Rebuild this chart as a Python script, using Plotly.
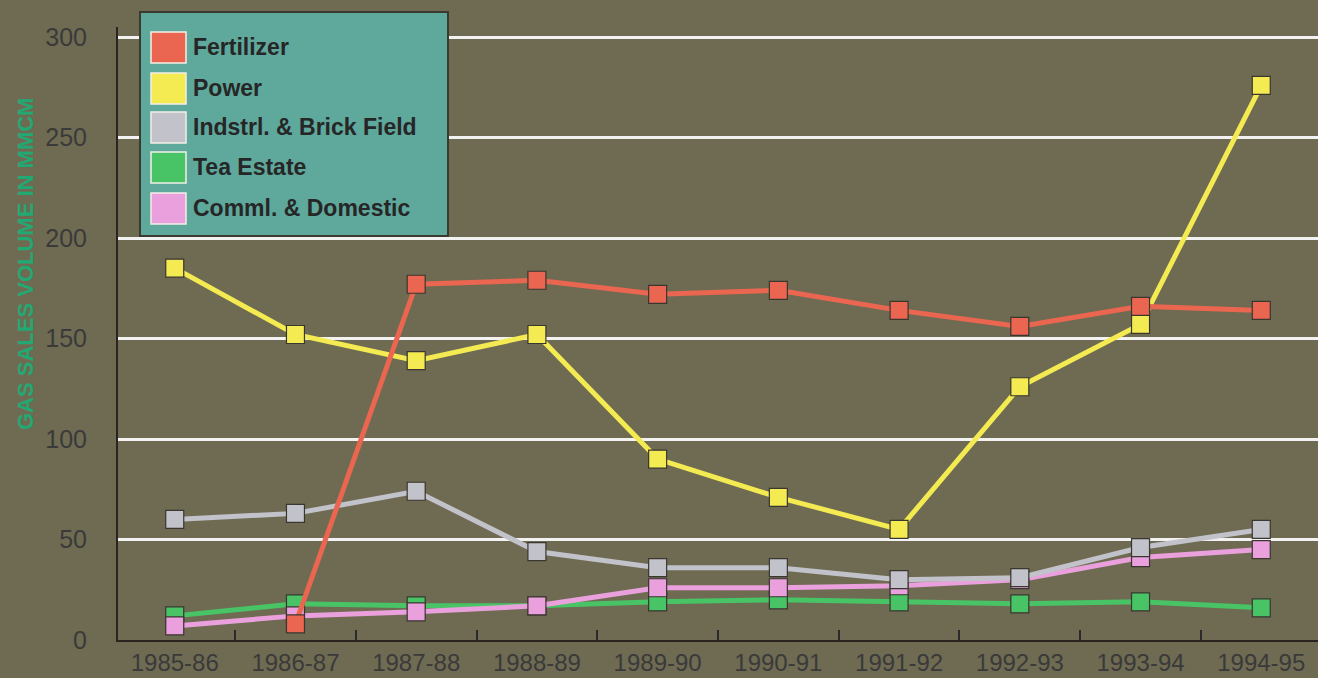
import plotly.graph_objects as go

years = ["1985-86", "1986-87", "1987-88", "1988-89", "1989-90",
         "1990-91", "1991-92", "1992-93", "1993-94", "1994-95"]

fertilizer = [None, 8, 177, 179, 172, 174, 164, 156, 166, 164]
power = [185, 152, 139, 152, 90, 71, 55, 126, 157, 276]
indstrl_brick = [60, 63, 74, 44, 36, 36, 30, 31, 46, 55]
tea_estate = [12, 18, 17, 17, 19, 20, 19, 18, 19, 16]
comml_domestic = [7, 12, 14, 17, 26, 26, 27, 30, 41, 45]

y_ticks = [0, 50, 100, 150, 200, 250, 300]

series_names = ["Fertilizer", "Power", "Indstrl. & Brick Field", "Tea Estate", "Comml. & Domestic"]
series_values = [fertilizer, power, indstrl_brick, tea_estate, comml_domestic]
series_colors = ["#ea6650", "#f4ea52", "#c2c2ca", "#48c466", "#eaa0dc"]

fig = go.Figure()

# draw order: bottom series first, fertilizer on top
for idx in [3, 4, 2, 1, 0]:
    fig.add_trace(go.Scatter(
        x=years, y=series_values[idx], name=series_names[idx],
        mode="lines+markers",
        line=dict(color=series_colors[idx], width=5),
        marker=dict(symbol="square", size=18, color=series_colors[idx],
                    line=dict(color="#3a3630", width=1.2)),
        connectgaps=False, showlegend=False,
    ))

# manual legend box (paper coordinates)
L, R, T, B = 118, 1318, 27, 640
def px(x):
    return (x - L) / (R - L)
def py(y):
    return (B - y) / (B - T)

shapes = [dict(type="rect", xref="paper", yref="paper",
               x0=px(140), x1=px(448), y0=py(236), y1=py(12),
               fillcolor="#5ea89c", line=dict(color="#3c3a30", width=2), layer="above")]
annotations = []
row_y = [47, 88, 127, 167, 208]
for name, col, yy in zip(series_names, series_colors, row_y):
    shapes.append(dict(type="rect", xref="paper", yref="paper",
                       x0=px(151), x1=px(186), y0=py(yy + 16), y1=py(yy - 15),
                       fillcolor=col, line=dict(color="#f4f0e8", width=1.5), layer="above"))
    annotations.append(dict(xref="paper", yref="paper", x=px(191), y=py(yy),
                            text=name, showarrow=False, xanchor="left", yanchor="middle",
                            font=dict(family="Liberation Sans, Arial, sans-serif", size=23,
                                      color="#262626", weight="bold")))

annotations.append(dict(xref="paper", yref="paper", x=px(25), y=py(264),
                        text="GAS SALES VOLUME IN MMCM", showarrow=False, textangle=-90,
                        xanchor="center", yanchor="middle",
                        font=dict(family="Liberation Sans, Arial, sans-serif", size=22,
                                  color="#22a873", weight="bold")))

fig.update_layout(
    width=1318, height=678,
    margin=dict(l=L, r=0, t=T, b=678 - B, pad=0),
    paper_bgcolor="#6e6b52",
    plot_bgcolor="#6e6b52",
    showlegend=False,
    shapes=shapes,
    annotations=annotations,
    font=dict(family="Liberation Sans, Arial, sans-serif", color="#3a3a3a"),
)

fig.update_xaxes(
    type="category", categoryorder="array", categoryarray=years,
    range=[-0.47, 9.47],
    showgrid=False, zeroline=False,
    showline=True, linecolor="#2a2420", linewidth=2,
    ticks="inside", ticklen=10, tickwidth=2, tickcolor="#2a2a2a", tickson="boundaries",
    tickfont=dict(size=24, color="#3a3a3a"),
    ticklabelstandoff=0,
)

fig.update_yaxes(
    range=[0, 305],
    tickvals=y_ticks, ticktext=[str(v) for v in y_ticks],
    showgrid=True, gridcolor="#f2f2f2", gridwidth=3,
    zeroline=False,
    showline=True, linecolor="#2a2420", linewidth=2,
    ticks="", tickfont=dict(size=25, color="#3a3a3a"),
    ticklabelstandoff=24,
)

fig.write_html("out.html", config={"displayModeBar": False},
               post_script="document.body.style.margin='0';document.body.style.overflow='hidden';")
